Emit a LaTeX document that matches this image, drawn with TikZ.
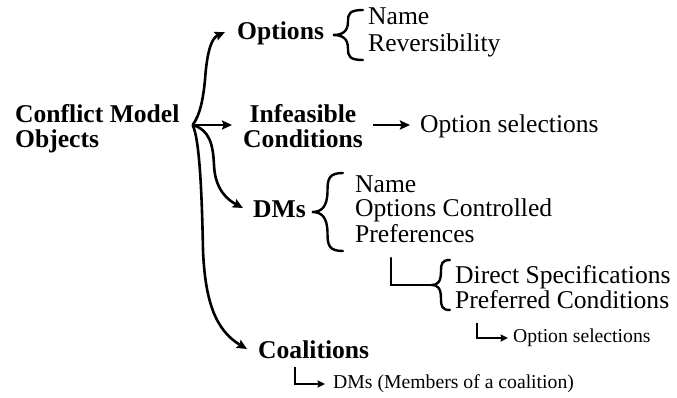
\documentclass[tikz,border=0pt]{standalone}
\usepackage{fontspec}
\setmainfont{Liberation Serif}
\usetikzlibrary{arrows.meta,calc}

% left curly brace: tip at (#1,#2), half height #3, width #4
\newcommand\curlyleft[4]{%
  ({#1+#4},{#2-#3}) .. controls ({#1+0.55*#4},{#2-#3}) and ({#1+0.5*#4},{#2-0.85*#3}) .. ({#1+0.5*#4},{#2-0.55*#3})
  .. controls ({#1+0.5*#4},{#2-0.12*#3}) and ({#1+0.3*#4},{#2}) .. (#1,#2)
  .. controls ({#1+0.3*#4},{#2}) and ({#1+0.5*#4},{#2+0.12*#3}) .. ({#1+0.5*#4},{#2+0.55*#3})
  .. controls ({#1+0.5*#4},{#2+0.85*#3}) and ({#1+0.55*#4},{#2+#3}) .. ({#1+#4},{#2+#3})}

\begin{document}
\begin{tikzpicture}[x=1pt,y=-1pt,
  head/.style={font=\fontsize{25.6}{25.5}\selectfont\bfseries, inner sep=0pt},
  item/.style={font=\fontsize{25.6}{26}\selectfont, inner sep=0pt, anchor=base west},
  small/.style={font=\fontsize{19.7}{20}\selectfont, inner sep=0pt, anchor=base west},
  arr/.style={line width=2.6pt, -{Stealth[length=10pt,width=9pt,inset=1.5pt]}},
  bracestroke/.style={line width=2.4pt, line cap=round},
  sarr/.style={line width=2.3pt, -{Stealth[length=7.5pt,width=7pt,inset=1pt]}}]
\useasboundingbox (0,0) rectangle (677,398);

% top-level objects
\node[head, align=left, anchor=north west] (root) at (15,104) {Conflict Model\\Objects};
\node[head, anchor=base west] (opt) at (237,40) {Options};
\node[head, align=center, anchor=north] (inf) at (303,104) {Infeasible\\Conditions};
\node[head, anchor=base west] (dms) at (253,218) {DMs};
\node[head, anchor=base west] (coa) at (258,358) {Coalitions};

% attributes
\node[item] (optname) at (368,25) {Name};
\node[item] (optrev) at (368,52) {Reversibility};
\node[item] (optsel) at (420,133) {Option selections};
\node[item] (dmname) at (355,193) {Name};
\node[item] (dmctl) at (355,217) {Options Controlled};
\node[item] (pref) at (355,242) {Preferences};
\node[item] (ds) at (455,283) {Direct Specifications};
\node[item] (pc) at (455,308) {Preferred Conditions};
\node[small] (os2) at (513,342) {Option selections};
\node[small] (mem) at (333,388) {DMs (Members of a coalition)};

% branching arrows from the root
\coordinate (hub) at ($(root.north east)+(13,21)$);
\draw[arr] (hub) .. controls (200,115) and (203,100) .. (205,80)
  .. controls (207,50) and (212,38) .. ($(opt.base west)+(-12,-8)$);
\draw[arr] (hub) -- ($(inf.west |- hub)+(-11,0)$);
\draw[arr] (hub) .. controls (210,130) and (213,145) .. (214,165)
  .. controls (215,190) and (228,200) .. ($(dms.base west)+(-10,-10)$);
\draw[arr] (hub) .. controls (200,140) and (202,200) .. (203,250)
  .. controls (205,300) and (215,330) .. ($(coa.base west)+(-11,-9)$);

% infeasible conditions -> option selections
\draw[arr] ($(optsel.base west)+(-47,-8)$) -- ($(optsel.base west)+(-10,-8)$);

% braces
\draw[bracestroke] \curlyleft{333}{35}{25}{30};
\draw[bracestroke] \curlyleft{312}{212}{39}{31};
\coordinate (bpref) at (432,285);
\draw[bracestroke] \curlyleft{432}{285}{25}{18};
\draw[bracestroke] ($(pref.base west)+(36,16)$) |- (bpref);

% small hooked arrows
\draw[sarr] ($(pc.base west)+(22,15)$) |- ($(os2.base west)+(-5,-4)$);
\draw[sarr] ($(coa.base west)+(37,9)$) |- ($(mem.base west)+(-8,-4)$);
\end{tikzpicture}
\end{document}
